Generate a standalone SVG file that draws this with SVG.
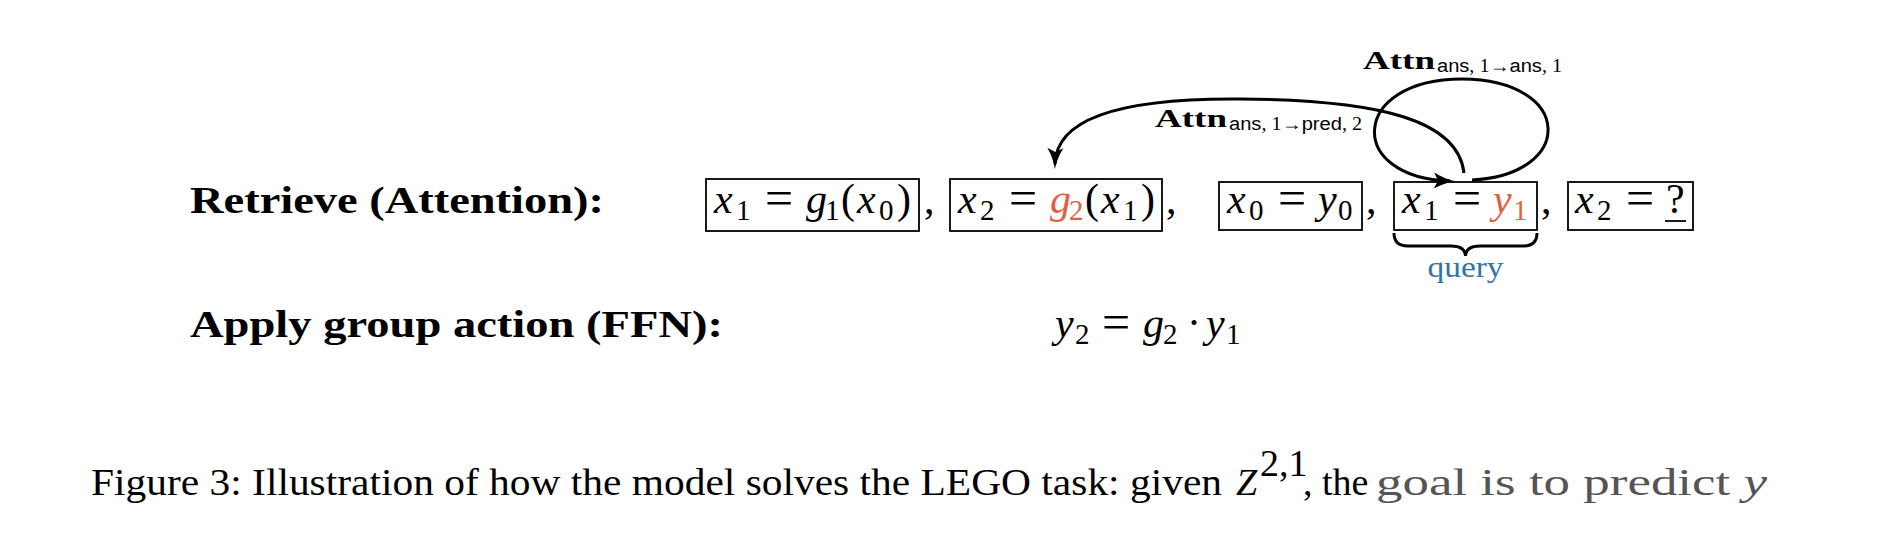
<svg xmlns="http://www.w3.org/2000/svg" width="1878" height="560" viewBox="0 0 1878 560">
<style>
.m{font-family:"Liberation Serif",serif;font-size:42px;fill:#000}
.i{font-style:italic}
.s{font-size:29px}
.eq{font-size:50px}
.red{fill:#e0613f}
.box{fill:none;stroke:#000;stroke-width:1.8}
.lbl{font-family:"Liberation Serif",serif;font-weight:bold;font-size:37px}
.edge{fill:none;stroke:#000;stroke-width:3}
.attn{font-family:"Liberation Serif",serif;font-weight:bold;font-size:26px}
.sub{font-family:"Liberation Sans",sans-serif;font-size:18px}
.sr{font-family:"Liberation Serif","DejaVu Serif",serif}
.cap{font-family:"Liberation Serif",serif;font-size:38px}
.smear{fill:#555}
.q{font-family:"Liberation Serif",serif;font-size:30px;fill:#3473aa}
</style>
<defs>
<marker id="tip" markerUnits="userSpaceOnUse" viewBox="-20 -9 26 18" refX="0" refY="0" markerWidth="26" markerHeight="18" orient="auto">
<path d="M5,0 Q-6,-2 -16,-8 L-12,0 L-16,8 Q-6,2 5,0 Z" fill="#000"/>
</marker>
</defs>
<rect width="1878" height="560" fill="#fff"/>

<g id="label-retrieve"><text class="lbl" x="190" y="213" textLength="414" lengthAdjust="spacingAndGlyphs">Retrieve (Attention):</text></g>
<g id="label-apply"><text class="lbl" x="190" y="337" textLength="533" lengthAdjust="spacingAndGlyphs">Apply group action (FFN):</text></g>

<g id="box1">
<rect class="box" x="706" y="179" width="213" height="52"/>
<text class="m"><tspan class="i" x="714" y="213">x</tspan><tspan class="s" x="736" y="220">1</tspan><tspan class="eq" x="765" y="215">=</tspan><tspan class="i" x="806" y="213">g</tspan><tspan class="s" x="825" y="220">1</tspan><tspan x="841" y="213">(</tspan><tspan class="i" x="857" y="213">x</tspan><tspan class="s" x="879" y="220">0</tspan><tspan x="897" y="213">)</tspan></text>
</g>
<text class="m" x="924" y="213">,</text>

<g id="box2">
<rect class="box" x="950" y="179" width="212" height="52"/>
<text class="m"><tspan class="i" x="958" y="213">x</tspan><tspan class="s" x="980" y="220">2</tspan><tspan class="eq" x="1009" y="215">=</tspan><tspan class="i red" x="1050" y="213">g</tspan><tspan class="s red" x="1069" y="220">2</tspan><tspan x="1085" y="213">(</tspan><tspan class="i" x="1101" y="213">x</tspan><tspan class="s" x="1123" y="220">1</tspan><tspan x="1141" y="213">)</tspan></text>
</g>
<text class="m" x="1166" y="213">,</text>

<g id="box3">
<rect class="box" x="1219" y="182" width="143" height="48"/>
<text class="m"><tspan class="i" x="1227" y="213">x</tspan><tspan class="s" x="1249" y="220">0</tspan><tspan class="eq" x="1278" y="215">=</tspan><tspan class="i" x="1318" y="213">y</tspan><tspan class="s" x="1338" y="220">0</tspan></text>
</g>
<text class="m" x="1366" y="213">,</text>

<g id="box4">
<rect class="box" x="1394" y="182" width="143" height="48"/>
<text class="m"><tspan class="i" x="1402" y="213">x</tspan><tspan class="s" x="1424" y="220">1</tspan><tspan class="eq" x="1453" y="215">=</tspan><tspan class="i red" x="1493" y="213">y</tspan><tspan class="s red" x="1513" y="220">1</tspan></text>
</g>
<text class="m" x="1541" y="213">,</text>

<g id="box5">
<rect class="box" x="1568" y="182" width="125" height="48"/>
<text class="m"><tspan class="i" x="1575" y="213">x</tspan><tspan class="s" x="1597" y="220">2</tspan><tspan class="eq" x="1626" y="215">=</tspan><tspan x="1666" y="213">?</tspan></text>
<line x1="1665" y1="221" x2="1686" y2="221" stroke="#000" stroke-width="1.8"/>
</g>

<g id="query">
<path class="edge" d="M1394,233 Q1394,246 1408,246 L1451,246 Q1465,246 1465.5,256 Q1466,246 1480,246 L1523,246 Q1537,246 1537,233"/>
<text class="q" x="1465.5" y="277" text-anchor="middle" textLength="76" lengthAdjust="spacingAndGlyphs">query</text>
</g>

<g id="ffn">
<text class="m"><tspan class="i" x="1055" y="337">y</tspan><tspan class="s" x="1075" y="344">2</tspan><tspan class="eq" x="1102" y="339">=</tspan><tspan class="i" x="1143" y="337">g</tspan><tspan class="s" x="1163" y="344">2</tspan><tspan x="1187" y="337">·</tspan><tspan class="i" x="1206" y="337">y</tspan><tspan class="s" x="1226" y="344">1</tspan></text>
</g>

<g id="connectors">
<path class="edge" d="M1464,173 C1458,120 1380,100 1240,99 C1130,98 1056,115 1055,164" marker-end="url(#tip)"/>
<path class="edge" d="M1472,180 C1575,175 1575,80 1462,79 C1350,79 1345,178 1450,181" marker-end="url(#tip)"/>
</g>

<g id="attn-labels">
<text class="attn" x="1363" y="69" textLength="72" lengthAdjust="spacingAndGlyphs">Attn</text>
<text class="sub" x="1437" y="72" textLength="125" lengthAdjust="spacingAndGlyphs">ans<tspan class="sr">, 1→</tspan>ans<tspan class="sr">, 1</tspan></text>
<text class="attn" x="1155" y="127" textLength="72" lengthAdjust="spacingAndGlyphs">Attn</text>
<text class="sub" x="1229" y="130" textLength="133" lengthAdjust="spacingAndGlyphs">ans<tspan class="sr">, 1→</tspan>pred<tspan class="sr">, 2</tspan></text>
</g>

<g id="caption">
<text class="cap" x="91" y="495" textLength="1131" lengthAdjust="spacingAndGlyphs">Figure 3: Illustration of how the model solves the LEGO task: given</text>
<text class="cap i" x="1236" y="495">Z</text>
<text class="cap" font-size="23" x="1260" y="476">2,1</text>
<text class="cap" x="1303" y="495">, the</text>
<text class="cap smear" x="1376" y="495" textLength="391" lengthAdjust="spacingAndGlyphs">goal is to predict <tspan class="i">y</tspan></text>
</g>
</svg>
